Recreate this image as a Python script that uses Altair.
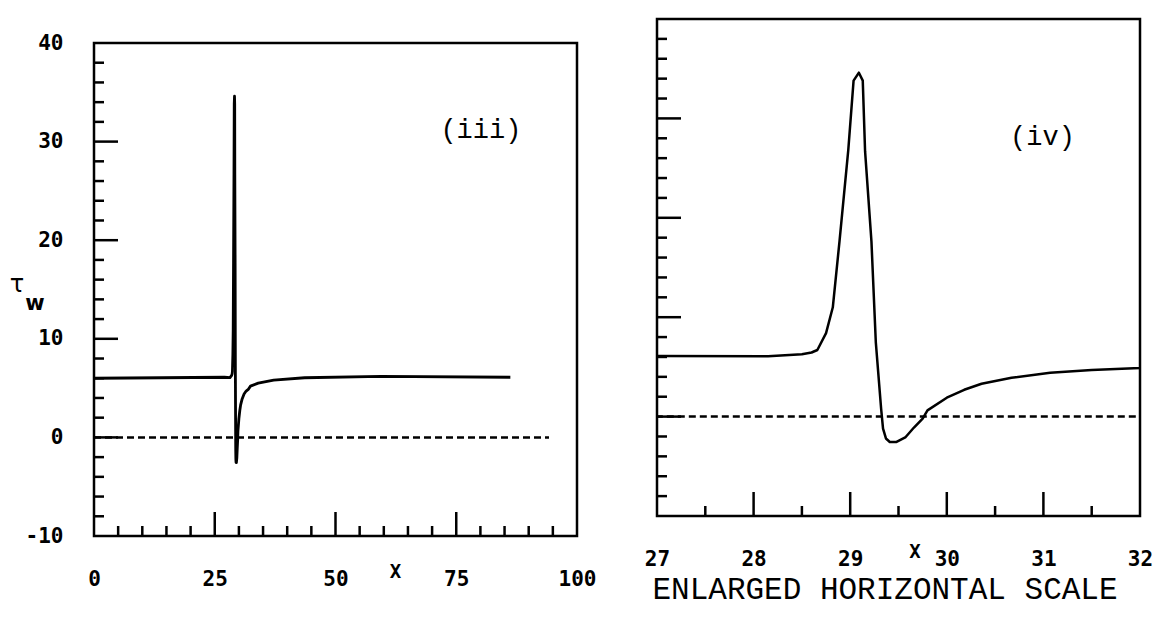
import altair as alt
import pandas as pd

# ---- data ----
curve_x = [0, 14, 27.0, 28.15, 28.50, 28.60, 28.66, 28.75, 28.82, 28.89, 28.98, 29.035, 29.09, 29.13,
           29.154, 29.22, 29.265, 29.32, 29.34, 29.37, 29.41, 29.48, 29.57, 29.66, 29.75, 29.80,
           30.00, 30.18, 30.36, 30.67, 31.07, 31.5, 32.0, 32.4, 34.0, 37.2, 43.6, 59.4, 86.2]
curve_tau = [6.0, 6.05, 6.1, 6.06, 6.28, 6.45, 6.7, 8.4, 11.0, 17.7, 26.8, 33.8, 34.6, 33.8,
             26.7, 17.6, 7.5, 0.8, -1.2, -2.2, -2.55, -2.55, -2.1, -1.1, -0.2, 0.63,
             1.9, 2.7, 3.3, 3.9, 4.4, 4.7, 4.9, 5.2, 5.5, 5.8, 6.05, 6.18, 6.1]
ref_x = [0, 94.2]
ref_tau = [0.0, 0.0]

left_x_labels = [0, 25, 50, 75, 100]
left_x_major = [25, 50, 75]
left_x_minor = [5, 10, 15, 20, 30, 35, 40, 45, 55, 60, 65, 70, 80, 85, 90, 95]
y_labels = [-10, 0, 10, 20, 30, 40]
y_major = [0, 10, 20, 30]
y_minor = [-8, -6, -4, -2, 2, 4, 6, 8, 12, 14, 16, 18, 22, 24, 26, 28, 32, 34, 36, 38]
right_x_labels = [27, 28, 29, 30, 31, 32]
right_x_major = [28, 29, 30, 31]
right_x_minor = [27.5, 28.5, 29.5, 30.5, 31.5]

curve = pd.DataFrame({"x": curve_x, "tau": curve_tau})
refline = pd.DataFrame({"x": ref_x, "tau": ref_tau})

BLACK = "black"
LW = 2.5
MINOR, MAJOR = 10, 24

# ---------------- left panel ----------------
W1, H1 = 483, 517
Y1_TOP = 24
xs1 = alt.Scale(domain=[0, 100], nice=False, zero=False)
ys1 = alt.Scale(domain=[-10, 40], range=[H1, Y1_TOP], nice=False, zero=False)
ax1 = alt.Axis(values=left_x_labels, title=None, labelPadding=32, labelFlush=False,
               labelOverlap=False, ticks=False, tickSize=0, domain=False, grid=False)
ay1 = alt.Axis(values=y_labels, title=None, labelPadding=31, labelOverlap=False,
               ticks=False, tickSize=0, domain=False, grid=False,
               labelExpr="'' + datum.value")


def X1(field=None, datum=None):
    if datum is not None:
        return alt.X(datum=datum, type="quantitative", scale=xs1, axis=ax1)
    return alt.X(field, type="quantitative", scale=xs1, axis=ax1)


def Y1(field=None, datum=None):
    if datum is not None:
        return alt.Y(datum=datum, type="quantitative", scale=ys1, axis=ay1)
    return alt.Y(field, type="quantitative", scale=ys1, axis=ay1)


frame1 = alt.Chart(pd.DataFrame({"k": [0]})).mark_rect(
    fillOpacity=0, stroke=BLACK, strokeWidth=LW
).encode(x=X1(datum=0), x2=alt.datum(100), y=Y1(datum=-10), y2=alt.datum(40))

yt1_min = alt.Chart(pd.DataFrame({"v": y_minor})).mark_rule(color=BLACK, strokeWidth=LW).encode(
    y=Y1("v"), x=alt.value(0), x2=alt.value(MINOR))
yt1_maj = alt.Chart(pd.DataFrame({"v": y_major})).mark_rule(color=BLACK, strokeWidth=LW).encode(
    y=Y1("v"), x=alt.value(0), x2=alt.value(MAJOR))
xt1_min = alt.Chart(pd.DataFrame({"v": left_x_minor})).mark_rule(color=BLACK, strokeWidth=LW).encode(
    x=X1("v"), y=alt.value(H1), y2=alt.value(H1 - MINOR))
xt1_maj = alt.Chart(pd.DataFrame({"v": left_x_major})).mark_rule(color=BLACK, strokeWidth=LW).encode(
    x=X1("v"), y=alt.value(H1), y2=alt.value(H1 - MAJOR))

dash1 = alt.Chart(refline).mark_line(color=BLACK, strokeWidth=LW, strokeDash=[7, 4]).encode(
    x=X1("x"), y=Y1("tau"))
solid1 = alt.Chart(curve).mark_line(color=BLACK, strokeWidth=2.8, strokeJoin="round").encode(
    x=X1("x"), y=Y1("tau"))

lab1 = alt.Chart(pd.DataFrame({"t": ["(iii)"], "x": [80.1], "y": [31.2]})).mark_text(
    font="Liberation Mono", fontSize=27, color=BLACK
).encode(x=X1("x"), y=Y1("y"), text="t:N")
xlab1 = alt.Chart(pd.DataFrame({"t": ["X"], "x": [62.4]})).mark_text(
    font="DejaVu Sans Mono", fontWeight="bold", fontSize=19, color=BLACK, baseline="middle"
).encode(x=X1("x"), y=alt.value(553), text="t:N")
tau_lab = alt.Chart(pd.DataFrame({"t": ["τ"]})).mark_text(
    font="DejaVu Sans", fontSize=24, color=BLACK, baseline="middle"
).encode(x=alt.value(-77), y=alt.value(266), text="t:N")
w_lab = alt.Chart(pd.DataFrame({"t": ["w"]})).mark_text(
    font="DejaVu Sans", fontWeight="bold", fontSize=21, color=BLACK, baseline="middle"
).encode(x=alt.value(-59), y=alt.value(285), text="t:N")

left = alt.layer(frame1, yt1_min, yt1_maj, xt1_min, xt1_maj, dash1, solid1,
                 lab1, xlab1, tau_lab, w_lab).properties(width=W1, height=H1)

# ---------------- right panel ----------------
W2, H2 = 483, 497
xs2 = alt.Scale(domain=[27, 32], nice=False, zero=False)
ys2 = alt.Scale(domain=[-10, 40], nice=False, zero=False)
ax2 = alt.Axis(values=right_x_labels, title=None, labelPadding=32, labelFlush=False,
               labelOverlap=False, ticks=False, tickSize=0, domain=False, grid=False)


def X2(field=None, datum=None):
    if datum is not None:
        return alt.X(datum=datum, type="quantitative", scale=xs2, axis=ax2)
    return alt.X(field, type="quantitative", scale=xs2, axis=ax2)


def Y2(field=None, datum=None):
    if datum is not None:
        return alt.Y(datum=datum, type="quantitative", scale=ys2, axis=None)
    return alt.Y(field, type="quantitative", scale=ys2, axis=None)


frame2 = alt.Chart(pd.DataFrame({"k": [0]})).mark_rect(
    fillOpacity=0, stroke=BLACK, strokeWidth=LW
).encode(x=X2(datum=27), x2=alt.datum(32), y=Y2(datum=-10), y2=alt.datum(40))

yt2_min = alt.Chart(pd.DataFrame({"v": y_minor})).mark_rule(color=BLACK, strokeWidth=LW).encode(
    y=Y2("v"), x=alt.value(0), x2=alt.value(MINOR))
yt2_maj = alt.Chart(pd.DataFrame({"v": y_major})).mark_rule(color=BLACK, strokeWidth=LW).encode(
    y=Y2("v"), x=alt.value(0), x2=alt.value(MAJOR))
xt2_min = alt.Chart(pd.DataFrame({"v": right_x_minor})).mark_rule(color=BLACK, strokeWidth=LW).encode(
    x=X2("v"), y=alt.value(H2), y2=alt.value(H2 - MINOR))
xt2_maj = alt.Chart(pd.DataFrame({"v": right_x_major})).mark_rule(color=BLACK, strokeWidth=LW).encode(
    x=X2("v"), y=alt.value(H2), y2=alt.value(H2 - MAJOR))

dash2 = alt.Chart(refline).mark_line(color=BLACK, strokeWidth=LW, strokeDash=[7, 4], clip=True).encode(
    x=X2("x"), y=Y2("tau"))
solid2 = alt.Chart(curve).mark_line(color=BLACK, strokeWidth=2.5, strokeJoin="round", clip=True).encode(
    x=X2("x"), y=Y2("tau"))

lab2 = alt.Chart(pd.DataFrame({"t": ["(iv)"], "x": [30.99], "y": [28.1]})).mark_text(
    font="Liberation Mono", fontSize=27, color=BLACK
).encode(x=X2("x"), y=Y2("y"), text="t:N")
xlab2 = alt.Chart(pd.DataFrame({"t": ["X"], "x": [29.67]})).mark_text(
    font="DejaVu Sans Mono", fontWeight="bold", fontSize=19, color=BLACK, baseline="middle"
).encode(x=X2("x"), y=alt.value(533), text="t:N")
scale_note = alt.Chart(pd.DataFrame({"t": ["ENLARGED HORIZONTAL SCALE"]})).mark_text(
    font="Liberation Mono", fontSize=31, color=BLACK, baseline="middle", align="center"
).encode(x=alt.value(228), y=alt.value(571), text="t:N")

right = alt.layer(frame2, yt2_min, yt2_maj, xt2_min, xt2_maj, dash2, solid2,
                  lab2, xlab2, scale_note).properties(width=W2, height=H2)

chart = alt.hconcat(left, right, spacing=48).properties(
    padding={"left": 1, "top": 9, "right": 5, "bottom": 2}
).configure_view(strokeWidth=0).configure_axis(
    labelFont="DejaVu Sans Mono", labelFontWeight="bold", labelFontSize=21,
    labelColor=BLACK, grid=False
)

chart.save("out.html", embed_options={"renderer": "svg", "actions": False})
